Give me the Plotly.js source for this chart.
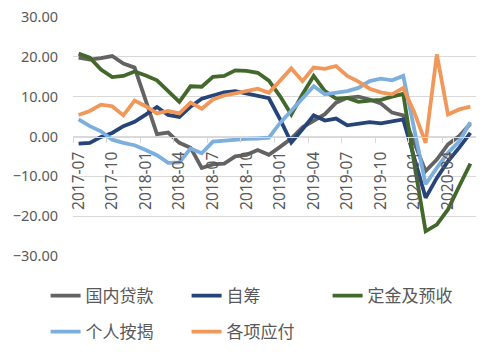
<!DOCTYPE html>
<html>
<head>
<meta charset="utf-8">
<script src="https://cdn.plot.ly/plotly-3.0.1.min.js"></script>
<style>html,body{margin:0;padding:0;background:#fff;}#chart{width:493px;height:352px;}</style>
</head>
<body>
<div id="chart"></div>
<script>
var months = ["2017-07","2017-08","2017-09","2017-10","2017-11","2017-12",
  "2018-01","2018-02","2018-03","2018-04","2018-05","2018-06",
  "2018-07","2018-08","2018-09","2018-10","2018-11","2018-12",
  "2019-01","2019-02","2019-03","2019-04","2019-05","2019-06",
  "2019-07","2019-08","2019-09","2019-10","2019-11","2019-12",
  "2020-01","2020-02","2020-03","2020-04","2020-05","2020-06"];
var tickLabels = ["2017-07","2017-10","2018-01","2018-04","2018-07","2018-10",
  "2019-01","2019-04","2019-07","2019-10","2020-01","2020-04"];

var domesticLoans = [19.8,19.3,19.7,20.2,18.3,17.3,9.0,0.6,1.0,-1.6,-2.8,-7.9,
  -7.0,-6.8,-5.0,-4.6,-3.4,-4.6,-2.6,-0.5,2.3,3.9,5.6,8.5,
  9.7,10.0,9.3,8.3,6.0,5.3,-2.0,-8.7,-5.8,-2.0,0.1,3.2];
var selfRaised = [-1.8,-1.6,-0.1,0.9,2.6,3.7,5.5,7.4,5.4,4.9,7.5,9.5,
  10.3,11.1,11.4,10.8,10.1,9.6,4.3,-1.5,1.8,5.3,4.0,4.5,
  2.8,3.2,3.6,3.3,3.7,4.3,-5.5,-15.4,-10.4,-6.2,-2.8,0.9];
var deposits = [20.8,19.8,16.8,14.9,15.2,16.3,15.3,14.1,11.4,8.7,12.6,12.5,
  15.0,15.2,16.6,16.5,16.0,14.0,10.1,5.5,10.6,15.2,11.4,9.5,
  9.7,8.7,9.0,9.2,10.0,10.7,-7.0,-23.8,-22.1,-18.3,-12.5,-6.8];
var mortgages = [4.3,2.6,1.3,-0.8,-1.6,-2.2,-3.4,-4.7,-6.6,-6.5,-3.0,-4.2,
  -1.3,-1.0,-0.8,-0.6,-0.5,-0.3,3.4,6.4,9.3,12.6,10.6,11.0,
  11.4,12.2,13.9,14.5,14.1,15.2,1.0,-12.0,-7.9,-4.1,-1.2,3.6];
var payables = [5.4,6.4,8.0,7.6,5.3,9.0,7.6,5.8,6.4,5.8,8.5,7.0,
  9.3,10.3,10.8,11.4,12.0,11.0,14.0,17.1,13.9,17.3,17.0,17.7,
  15.2,13.8,12.0,11.1,10.6,12.2,6.0,-1.6,20.6,5.5,6.8,7.5];

var names = ["国内贷款","自筹","定金及预收","个人按揭","各项应付"];
var colors = ["#636363","#264478","#43682B","#7CAFDD","#F1975A"];
var series = [domesticLoans, selfRaised, deposits, mortgages, payables];
var legends = ["legend","legend","legend","legend2","legend2"];

var traces = series.map(function(s, k){
  return {x: months, y: s, type: "scatter", mode: "lines", name: names[k],
    legend: legends[k],
    line: {color: colors[k], width: 3.8, shape: "linear"}, hoverinfo: "skip"};
});

var legendFont = {family: "Noto Sans CJK SC, sans-serif", size: 17, color: "#595959"};
var layout = {
  width: 493, height: 352,
  margin: {l: 73, r: 17, t: 17, b: 96, autoexpand: false},
  paper_bgcolor: "#fff", plot_bgcolor: "#fff",
  showlegend: true,
  xaxis: {type: "category", categoryorder: "array", categoryarray: months,
    tickmode: "array", tickvals: tickLabels, ticktext: tickLabels,
    tickson: "boundaries", ticks: "outside", ticklen: 5, tickcolor: "#d9d9d9",
    tickangle: -90, showgrid: false, zeroline: false,
    showline: true, linecolor: "#d9d9d9", linewidth: 1,
    anchor: "free", position: 0.5, automargin: false,
    ticklabelstandoff: 8,
    range: [-0.5, 35.5],
    tickfont: {family: "Noto Sans, sans-serif", size: 15.5, color: "#595959"}},
  yaxis: {range: [-30, 30], dtick: 10, tick0: 0, tickformat: ".2f",
    showgrid: true, gridcolor: "#d9d9d9", gridwidth: 1, zeroline: false,
    showline: false, ticks: "", automargin: false, ticklabelstandoff: 14,
    tickfont: {family: "Noto Sans, sans-serif", size: 14.5, color: "#595959"}},
  legend: {orientation: "h", x: -0.068, xanchor: "left", y: -0.168, yanchor: "middle",
    entrywidth: 96, font: legendFont, bgcolor: "rgba(0,0,0,0)"},
  legend2: {orientation: "h", x: -0.068, xanchor: "left", y: -0.318, yanchor: "middle",
    entrywidth: 96, font: legendFont, bgcolor: "rgba(0,0,0,0)"}
};

Plotly.newPlot("chart", traces, layout, {displayModeBar: false, staticPlot: true});
</script>
</body>
</html>
